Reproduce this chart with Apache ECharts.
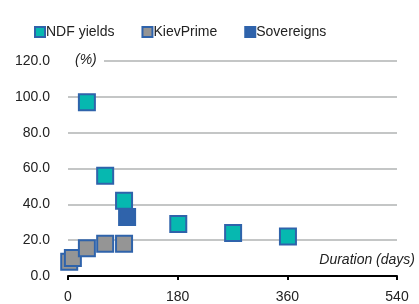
<!DOCTYPE html>
<html>
<head>
<meta charset="utf-8">
<script src="https://cdn.jsdelivr.net/npm/echarts@6/dist/echarts.min.js"></script>
<style>
  html, body { margin: 0; padding: 0; background: #fff; }
  #chart { width: 419px; height: 304px; }
</style>
</head>
<body>
<div id="chart"></div>
<script>
// [duration days, yield %]
const ndfYields = [[31, 97], [61, 56], [92, 42], [181, 29], [271, 24], [361, 22]]
const kievPrime = [[2, 8], [8, 10], [31, 15.5], [61, 18], [92, 18]]
const sovereigns = [[97, 33]]
const xTicks = [0, 180, 360, 540]

const font = '"Liberation Sans Narrow", "Liberation Sans", sans-serif'
const edge = '#2f63ab'

const mkSeries = (name, data, fill) => ({
  name: name,
  type: 'scatter',
  symbol: 'rect',
  symbolSize: 16,
  data: data,
  itemStyle: { color: fill, borderColor: edge, borderWidth: 2, opacity: 1 }
})

const chart = echarts.init(document.getElementById('chart'))
chart.setOption({
  animation: false,
  textStyle: { fontFamily: font },
  legend: {
    left: 29,
    top: 20,
    itemWidth: 10,
    itemHeight: 10,
    itemGap: 27,
    textStyle: { fontFamily: font, fontSize: 14, color: '#222', padding: [0, 0, 0, -4] },
    data: ['NDF yields', 'KievPrime', 'Sovereigns']
  },
  grid: { left: 68, right: 22, top: 61, bottom: 27 },
  xAxis: {
    type: 'value',
    min: 0,
    max: 540,
    interval: 180,
    axisLine: { show: true, onZero: true, lineStyle: { color: '#000', width: 2 } },
    axisTick: { show: true, length: 4, lineStyle: { color: '#000', width: 2 } },
    axisLabel: {
      margin: 14,
      fontSize: 14,
      color: '#222',
      fontFamily: font,
      formatter: v => xTicks.includes(v) ? String(v) : ''
    },
    splitLine: { show: false }
  },
  yAxis: {
    type: 'value',
    min: 0,
    max: 120,
    interval: 20,
    axisLine: { show: false },
    axisTick: { show: false },
    axisLabel: {
      margin: 18,
      fontSize: 14,
      color: '#222',
      fontFamily: font,
      formatter: v => v.toFixed(1)
    },
    splitLine: { lineStyle: { color: '#c4c6c6', width: 2 } }
  },
  graphic: [
    {
      type: 'rect',
      left: 64,
      top: 52,
      shape: { width: 40, height: 18 },
      style: { fill: '#fff' },
      z: 10
    },
    {
      type: 'text',
      left: 75,
      top: 53,
      style: { text: '(%)', font: 'italic 14px ' + font, fill: '#222' },
      z: 11
    },
    {
      type: 'text',
      right: 4,
      top: 253,
      style: { text: 'Duration (days)', font: 'italic 14px ' + font, fill: '#222' },
      z: 11
    }
  ],
  series: [
    mkSeries('NDF yields', ndfYields, '#06b8b0'),
    mkSeries('KievPrime', kievPrime, '#959595'),
    mkSeries('Sovereigns', sovereigns, '#2f63ab')
  ]
})
</script>
</body>
</html>
